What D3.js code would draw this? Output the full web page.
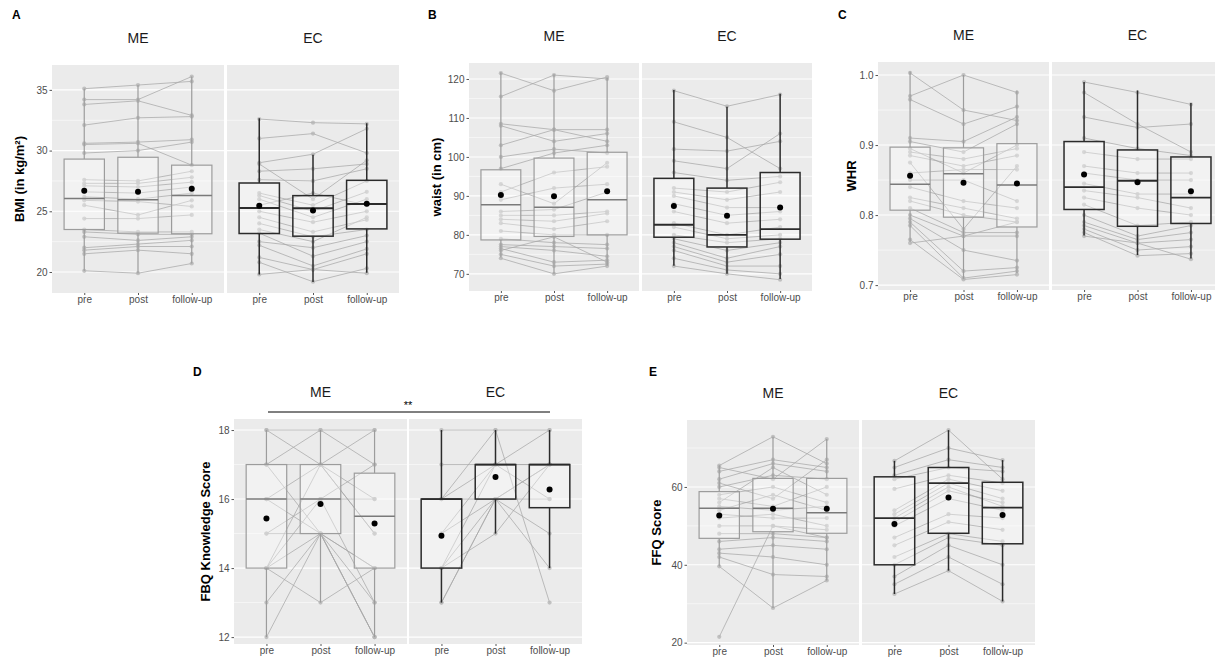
<!DOCTYPE html>
<meta charset="utf-8">
<style type="text/css">
  body { margin: 0; background: #fff; }
  svg text { font-family: "Liberation Sans", Arial, sans-serif; }
  .axis path.domain { display: none; }
  .axis line { stroke: #555; }
  .axis text { fill: #4d4d4d; font-size: 10px; }
  .grid-major { stroke: #fff; stroke-width: 1.1; }
  .grid-minor { stroke: #fff; stroke-width: 0.55; }
  .bg-panel { fill: #ebebeb; }
  .subj { fill: none; stroke: #a8a8a8; stroke-opacity: 0.75; stroke-width: 1; }
  .subj-pt { fill: #b5b5b5; fill-opacity: 0.8; }
  .mean { fill: #000; }
  .strip { font-size: 14px; fill: #1a1a1a; text-anchor: middle; }
  .ytitle { font-size: 13px; font-weight: bold; fill: #000; text-anchor: middle; }
  .letter { font-size: 12px; font-weight: bold; fill: #000; }
</style>
<body></body>
<script src="https://cdn.jsdelivr.net/npm/d3@7"></script>
<script>

var times = ["pre", "post", "follow-up"];
var groups = ["ME", "EC"];

// subjects: [pre, post, follow-up]
var bmiME = [[35.1,35.4,35.7],[34.2,34.2,36.1],[33.8,34.1,32.9],[32.1,32.7,32.8],[30.6,30.7,30.9],
  [30.5,30.6,28.8],[29.8,30.0,30.7],[27.6,27.5,28.3],[27.3,27.3,27.8],[27.1,27.0,27.4],[26.6,26.5,27.0],
  [26.2,26.0,26.5],[25.9,25.8,25.4],[25.5,24.7,25.9],[24.4,24.4,24.7],[23.5,23.3,23.3],[23.3,23.1,23.1],
  [22.9,22.6,22.9],[22.0,22.3,22.6],[21.8,22.1,22.1],[21.5,21.8,21.5],[20.1,19.9,20.7]];
var bmiEC = [[32.6,32.3,32.2],[31.0,31.4,29.8],[29.0,29.7,31.8],[28.9,26.0,29.2],[28.3,28.5,28.9],
  [27.6,27.5,28.5],[26.5,25.5,27.5],[26.3,25.0,26.6],[26.0,24.5,26.0],[25.5,26.5,25.5],[25.0,24.1,25.0],
  [24.5,23.3,24.3],[24.0,22.9,23.5],[23.5,22.5,24.5],[23.2,21.3,22.5],[22.5,22.0,23.0],[22.2,20.5,21.9],
  [21.2,20.2,21.5],[20.8,19.2,20.3],[19.8,20.2,19.9]];
var waistME = [[121.5,117,120.5],[115.5,121,120],[108.5,107,104],[108,104,106],[103,107,107],[100,102,101],
  [97,101,103],[93,88,98.5],[91,96,97.5],[89,92,93],[86,86.5,91],[85,85,86],[84,83.5,85.5],[83,81.5,83.5],
  [81,80,80],[79,78,77.5],[77.5,77,76.5],[77,76,74.5],[76.5,73,73.5],[76,79.5,73],[75,72,72.5],[74,70,72]];
var waistEC = [[117,113,116],[109,105,97],[102,101.5,104],[99,97,106],[96,94,95],[92,91,93.5],[91,89,91],
  [90,87,87],[88,85,86],[86,83,84],[83,80,82],[82,79,80],[80,78,79],[79,76,78],[78,74,77],[77,73,75],
  [76,72,72],[74,71,70],[72,70,68.5]];
var whrME = [[1.003,0.95,0.935],[0.97,1.0,0.975],[0.965,0.93,0.955],[0.91,0.905,0.94],[0.905,0.89,0.93],
  [0.895,0.86,0.90],[0.89,0.88,0.895],[0.885,0.87,0.885],[0.875,0.78,0.87],[0.86,0.865,0.865],
  [0.85,0.85,0.82],[0.84,0.82,0.81],[0.825,0.81,0.795],[0.82,0.80,0.79],[0.81,0.775,0.775],
  [0.80,0.77,0.77],[0.795,0.75,0.735],[0.79,0.72,0.725],[0.785,0.71,0.72],[0.765,0.708,0.715],[0.76,0.77,0.79]];
var whrEC = [[0.99,0.975,0.958],[0.975,0.93,0.89],[0.94,0.925,0.93],[0.91,0.895,0.885],[0.89,0.88,0.88],
  [0.87,0.86,0.86],[0.86,0.85,0.85],[0.845,0.83,0.83],[0.835,0.825,0.81],[0.825,0.81,0.80],
  [0.815,0.785,0.79],[0.80,0.77,0.785],[0.79,0.765,0.775],[0.785,0.76,0.765],[0.78,0.75,0.755],
  [0.775,0.742,0.745],[0.77,0.76,0.737]];
var fbqME = [[18,18,17],[18,17,18],[17,18,18],[17,17,16],[16,16,16],[16,15,12],[16,17,15],[15,15,14],
  [15,16,13],[14,15,12],[14,17,15],[14,13,14],[13,15,13],[12,15,14],[17,15,12],[14,16,17]];
var fbqEC = [[18,18,18],[17,17,17],[16,17,18],[16,16,17],[15,16,15],[14,17,16],[14,16,17],[14,15,17],
  [13,16,14],[16,18,13],[15,17,17],[13,16,16]];
var ffqME = [[65.5,72.9,66],[65,62,72.3],[64,67,65],[62,66,64],[61,57,67],[60,63,62],[58,60,56],[57,55,60],
  [56,65,58],[55,54,55],[54,58,54],[53,52,52],[52,53,50],[50,50,49],[48,48,47],[46,47,46],[44,45,44],
  [43,42,40],[42,37.5,37],[39.6,28.9,36],[21.5,50,47]];
var ffqEC = [[66.7,74.6,62],[65,70,66.9],[63,67,65],[62,65,64],[59.5,63,61],[54,62,59],[53,61,57],[52,60,55],
  [51,59,56],[50,57,54],[47,53,52],[45,51,49],[42,48,46],[40,47,45],[37,45,40],[35,42,35],[32.5,38.5,30.6]];

// box stats per time: [whisker low, q1, median, q3, whisker high, mean]
var bmiBoxME = [[20.1,23.5,26.05,29.3,35.1,26.7],[19.9,23.2,25.95,29.45,35.4,26.6],[20.7,23.15,26.3,28.8,36.1,26.85]];
var bmiBoxEC = [[19.8,23.17,25.27,27.33,32.67,25.45],[19.17,22.95,25.25,26.29,29.66,25.06],[19.94,23.55,25.6,27.55,32.26,25.62]];
var waistBoxME = [[74.2,78.7,87.7,96.7,121.7,90.2],[70,79.6,87.1,99.7,121.2,89.9],[72.1,80,89,101.2,120.3,91.2]];
var waistBoxEC = [[72.1,79.4,82.6,94.5,117.2,87.4],[70,76.9,80,92,112.9,84.9],[68.7,78.9,81.5,96,116.2,87]];
var whrBoxME = [[0.762,0.807,0.844,0.897,1.005,0.856],[0.709,0.797,0.859,0.896,1.0,0.846],[0.717,0.783,0.843,0.902,0.978,0.845]];
var whrBoxEC = [[0.771,0.808,0.84,0.905,0.99,0.858],[0.743,0.784,0.849,0.893,0.978,0.847],[0.738,0.788,0.825,0.883,0.96,0.834]];
var fbqBoxME = [[12,14,16,17,18,15.44],[13,15,16,17,18,15.86],[12,14,15.5,16.75,18,15.29]];
var fbqBoxEC = [[13,14,16,16,18,14.94],[15,16,17,17,18,16.64],[14,15.75,17,17,18,16.28]];
var ffqBoxME = [[39.6,46.8,54.5,58.8,65.6,52.65],[28.9,48.5,54.5,62.2,72.9,54.4],[36,48.1,53.4,62.2,72.3,54.4]];
var ffqBoxEC = [[32.5,40,52,62.6,66.7,50.5],[38.5,48.1,61,65,74.6,57.3],[30.6,45.4,54.7,61.2,66.9,52.8]];

// y ticks
var bmiTicks = [20, 25, 30, 35], bmiMinor = [22.5, 27.5, 32.5];
var waistTicks = [70, 80, 90, 100, 110, 120], waistMinor = [75, 85, 95, 105, 115];
var whrTicks = [0.7, 0.8, 0.9, 1.0], whrMinor = [0.75, 0.85, 0.95];
var fbqTicks = [12, 14, 16, 18], fbqMinor = [13, 15, 17];
var ffqTicks = [20, 40, 60], ffqMinor = [30, 50, 70];

var svg = d3.select("body").append("svg")
    .attr("width", 1215)
    .attr("height", 658);

var panels = [
  {letter: "A", lx: 12, ly: 19, title: "BMI (in kg/m\u00b2)", tx: 19,
   me: [52, 224], ec: [227, 399], top: 65, bottom: 293, dom: [18.27, 37.05],
   ticks: bmiTicks, minor: bmiMinor, fmt: d3.format("d"), data: [bmiME, bmiEC], box: [bmiBoxME, bmiBoxEC]},
  {letter: "B", lx: 428, ly: 19, title: "waist (in cm)", tx: 436,
   me: [469, 639], ec: [642, 812], top: 63, bottom: 291, dom: [65.6, 124.1],
   ticks: waistTicks, minor: waistMinor, fmt: d3.format("d"), data: [waistME, waistEC], box: [waistBoxME, waistBoxEC]},
  {letter: "C", lx: 838, ly: 19, title: "WHR", tx: 851,
   me: [878, 1049], ec: [1052, 1223], top: 62, bottom: 290, dom: [0.693, 1.0186],
   ticks: whrTicks, minor: whrMinor, fmt: d3.format(".1f"), data: [whrME, whrEC], box: [whrBoxME, whrBoxEC]},
  {letter: "D", lx: 193, ly: 376, title: "FBQ Knowledge Score", tx: 205,
   me: [234, 407], ec: [409, 582], top: 419, bottom: 644, dom: [11.8, 18.32],
   ticks: fbqTicks, minor: fbqMinor, fmt: d3.format("d"), data: [fbqME, fbqEC], box: [fbqBoxME, fbqBoxEC]},
  {letter: "E", lx: 649, ly: 376, title: "FFQ Score", tx: 656,
   me: [687, 859], ec: [862, 1035], top: 420, bottom: 645, dom: [19.4, 77.2],
   ticks: ffqTicks, minor: ffqMinor, fmt: d3.format("d"), data: [ffqME, ffqEC], box: [ffqBoxME, ffqBoxEC]}
];

var boxStroke = {ME: "#9c9c9c", EC: "#2b2b2b"};

panels.forEach(function(p) {
  var g = svg.append("g");
  var y = d3.scaleLinear().domain(p.dom).range([p.bottom, p.top]);

  g.append("text").attr("class", "letter").attr("x", p.lx).attr("y", p.ly).text(p.letter);

  g.append("text").attr("class", "ytitle")
    .attr("transform", "translate(" + (p.tx + 5) + "," + ((p.top + p.bottom) / 2) + ") rotate(-90)")
    .text(p.title);

  groups.forEach(function(grp, gi) {
    var xr = gi === 0 ? p.me : p.ec;
    var x = d3.scalePoint().domain(times).range(xr).padding(0.6);
    var bw = x.step() * 0.75;
    var fg = g.append("g");

    fg.append("rect").attr("class", "bg-panel")
      .attr("x", xr[0]).attr("y", p.top)
      .attr("width", xr[1] - xr[0]).attr("height", p.bottom - p.top);

    fg.selectAll("line.grid-minor").data(p.minor).enter().append("line")
      .attr("class", "grid-minor")
      .attr("x1", xr[0]).attr("x2", xr[1])
      .attr("y1", function(d) { return y(d); }).attr("y2", function(d) { return y(d); });
    fg.selectAll("line.grid-major").data(p.ticks).enter().append("line")
      .attr("class", "grid-major")
      .attr("x1", xr[0]).attr("x2", xr[1])
      .attr("y1", function(d) { return y(d); }).attr("y2", function(d) { return y(d); });

    fg.append("text").attr("class", "strip")
      .attr("x", (xr[0] + xr[1]) / 2).attr("y", p.top - 22)
      .text(grp);

    var line = d3.line().x(function(d, i) { return x(times[i]); }).y(function(d) { return y(d); });
    var subs = p.data[gi];
    fg.selectAll("path.subj").data(subs).enter().append("path")
      .attr("class", "subj").attr("d", line);
    subs.forEach(function(s) {
      fg.selectAll(null).data(s).enter().append("circle")
        .attr("class", "subj-pt")
        .attr("cx", function(d, i) { return x(times[i]); })
        .attr("cy", function(d) { return y(d); })
        .attr("r", 2.1);
    });

    var col = boxStroke[grp];
    var sw = grp === "EC" ? 1.5 : 1.2;
    p.box[gi].forEach(function(b, i) {
      var cx = x(times[i]);
      var bg = fg.append("g");
      bg.append("line").attr("x1", cx).attr("x2", cx).attr("y1", y(b[0])).attr("y2", y(b[1]))
        .attr("stroke", col).attr("stroke-width", sw);
      bg.append("line").attr("x1", cx).attr("x2", cx).attr("y1", y(b[3])).attr("y2", y(b[4]))
        .attr("stroke", col).attr("stroke-width", sw);
      bg.append("rect")
        .attr("x", cx - bw / 2).attr("width", bw)
        .attr("y", y(b[3])).attr("height", y(b[1]) - y(b[3]))
        .attr("fill", "#fff").attr("fill-opacity", 0.35)
        .attr("stroke", col).attr("stroke-width", sw);
      bg.append("line").attr("x1", cx - bw / 2).attr("x2", cx + bw / 2)
        .attr("y1", y(b[2])).attr("y2", y(b[2]))
        .attr("stroke", grp === "EC" ? "#2b2b2b" : "#7a7a7a").attr("stroke-width", sw + 0.3);
      bg.append("circle").attr("class", "mean")
        .attr("cx", cx).attr("cy", y(b[5])).attr("r", 3);
    });

    var xa = fg.append("g").attr("class", "axis")
      .attr("transform", "translate(0," + p.bottom + ")")
      .call(d3.axisBottom(x).tickSize(2).tickPadding(1));
    xa.selectAll("text").style("font-size", "10px");
  });

  g.append("g").attr("class", "axis")
    .attr("transform", "translate(" + p.me[0] + ",0)")
    .call(d3.axisLeft(y).tickValues(p.ticks).tickFormat(p.fmt).tickSize(2.5).tickPadding(2));
});

// significance bracket in panel D
svg.append("line").attr("x1", 268).attr("x2", 550).attr("y1", 412).attr("y2", 412)
  .attr("stroke", "#000").attr("stroke-width", 1);
svg.append("text").attr("x", 408).attr("y", 409).attr("text-anchor", "middle")
  .style("font-size", "11px").text("**");

</script>
